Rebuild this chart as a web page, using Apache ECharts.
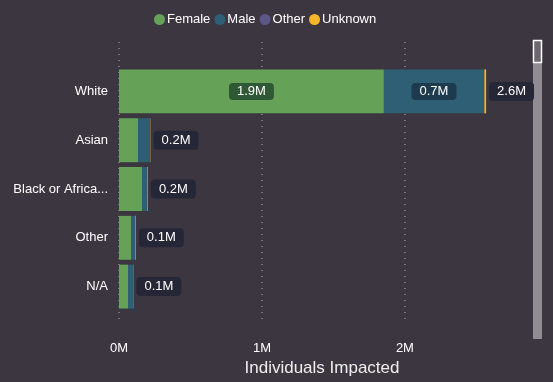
<!DOCTYPE html>
<html>
<head>
<meta charset="utf-8">
<script src="https://cdn.jsdelivr.net/npm/echarts@6/dist/echarts.min.js"></script>
<style>
html,body{margin:0;padding:0;background:#3c3641;}
#chart{width:553px;height:382px;}
</style>
</head>
<body>
<div id="chart"></div>
<script>
// Data (values in millions of individuals)
const categories = ['White', 'Asian', 'Black or African American', 'Other', 'N/A'];
const seriesNames = ['Female', 'Male', 'Other', 'Unknown'];
const femaleValues = [1.853, 0.133, 0.161, 0.084, 0.063];
const maleValues = [0.700, 0.084, 0.035, 0.028, 0.035];
const otherValues = [0.003, 0.002, 0.002, 0.002, 0.001];
const unknownValues = [0.012, 0.002, 0.004, 0.004, 0.002];
const xTicks = [0, 1, 2];

const colors = ['#66a158', '#2e5f74', '#5d5787', '#f7b52c'];
const labelBg = ['#2f5834', '#1e3a4f', '#2a2840', '#2a2a35'];
const FONT = '"Liberation Sans", Arial, sans-serif';

const totals = categories.map((c, i) => femaleValues[i] + maleValues[i] + otherValues[i] + unknownValues[i]);
const fmt = v => v.toFixed(1) + 'M';

function segData(values, idx) {
  return values.map(v => ({
    value: v,
    label: {
      show: v >= 0.3,
      position: 'inside',
      formatter: p => fmt(p.value),
      color: '#ffffff',
      fontFamily: FONT,
      fontSize: 13,
      backgroundColor: labelBg[idx],
      borderRadius: 4,
      padding: [2, 8]
    }
  }));
}

const valueLists = [femaleValues, maleValues, otherValues, unknownValues];
const series = seriesNames.map((name, idx) => {
  const s = {
    name: name,
    type: 'bar',
    stack: 'total',
    xAxisIndex: 0,
    yAxisIndex: 0,
    barCategoryGap: '10%',
    itemStyle: { color: colors[idx] },
    emphasis: { disabled: true },
    data: segData(valueLists[idx], idx)
  };
  if (name === 'Unknown') {
    s.data = valueLists[idx].map(v => v);
    s.label = {
      show: true,
      position: 'right',
      distance: 3,
      formatter: p => fmt(totals[p.dataIndex]),
      color: '#ffffff',
      fontFamily: FONT,
      fontSize: 13,
      backgroundColor: '#252737',
      borderRadius: 4,
      padding: [3, 8]
    };
  }
  return s;
});

const chart = echarts.init(document.getElementById('chart'));
const xMax = 2.84;
chart.setOption({
  backgroundColor: '#3c3641',
  animation: false,
  color: colors,
  textStyle: { fontFamily: FONT },
  legend: {
    top: 8,
    left: 149,
    icon: 'circle',
    itemWidth: 11,
    itemHeight: 11,
    itemGap: 4,
    textStyle: { color: '#ffffff', fontSize: 13, fontFamily: FONT, padding: [0, 0, 0, -3] },
    data: seriesNames
  },
  grid: [
    { left: 119, right: 28, top: 67, bottom: 71 },
    { left: 119, right: 28, top: 42, bottom: 45 }
  ],
  xAxis: [
    { type: 'value', gridIndex: 0, min: 0, max: xMax, interval: 1, show: false },
    {
      type: 'value', gridIndex: 1, min: 0, max: xMax, interval: 1,
      axisLine: { show: false }, axisTick: { show: false },
      axisLabel: {
        color: '#ffffff', fontSize: 13, fontFamily: FONT, margin: 18, showMaxLabel: false,
        formatter: v => (xTicks.indexOf(v) >= 0 ? v + 'M' : '')
      },
      splitLine: { show: true, showMaxLine: false, lineStyle: { color: '#8a8690', type: [1, 5], width: 1.5 } },
      name: 'Individuals Impacted',
      nameLocation: 'middle',
      nameGap: 30,
      nameTextStyle: { color: '#eeeeee', fontSize: 17, fontFamily: FONT }
    }
  ],
  yAxis: [
    {
      type: 'category', gridIndex: 0, inverse: true, data: categories,
      axisLine: { show: false }, axisTick: { show: false },
      axisLabel: {
        color: '#ffffff', fontSize: 13, fontFamily: FONT, margin: 11,
        width: 98, overflow: 'truncate', ellipsis: '...'
      }
    },
    { type: 'value', gridIndex: 1, show: false }
  ],
  series: series,
  graphic: [
    { type: 'rect', shape: { x: 533, y: 40, width: 9, height: 299 }, style: { fill: '#8f8c93' } },
    { type: 'rect', shape: { x: 533.5, y: 40.5, width: 8, height: 22 }, style: { fill: '#6b6870', stroke: '#ffffff', lineWidth: 1.5 } }
  ]
});
</script>
</body>
</html>
